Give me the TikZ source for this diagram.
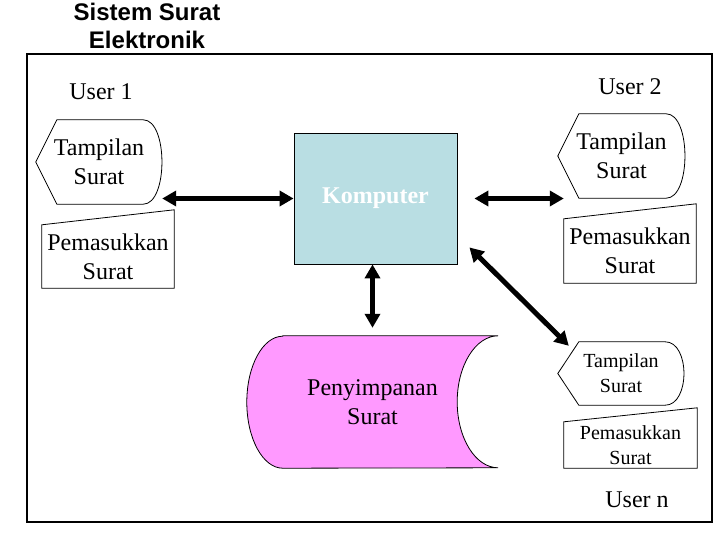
\documentclass[tikz,border=0pt]{standalone}
\usepackage{fontspec}
\setmainfont{Liberation Serif}
\newfontfamily\titlefont{Liberation Sans}
\usetikzlibrary{arrows.meta,calc,backgrounds}

\begin{document}
\begin{tikzpicture}[x=1pt,y=-1pt,
        txt/.style={font=\fontsize{24}{29}\selectfont, align=center, inner sep=0pt},
        smalltxt/.style={font=\fontsize{20}{25}\selectfont, align=center, inner sep=0pt},
        outline/.style={draw, line width=0.8pt},
        bigarrow/.style={{Triangle[length=14pt,width=15pt]}-{Triangle[length=14pt,width=15pt]}, line width=5pt}]
        \definecolor{kompblue}{RGB}{185,222,227}
        \definecolor{simpanpink}{RGB}{255,153,255}

        \useasboundingbox (0,0) rectangle (720,540);
        \node[font=\titlefont\bfseries\fontsize{24}{28}\selectfont, align=center, inner sep=0pt] (title) at (147,26) {Sistem Surat\\Elektronik};
        \draw[line width=1.2pt] (27,54) rectangle (712,522);

        % user labels
        \node[txt] (user1) at (101,92) {User 1};
        \node[txt] (user2) at (630,87) {User 2};
        \node[txt] (usern) at (637,500) {User n};

        % tampilan and pemasukkan
        \node[txt, minimum width=126pt, minimum height=84pt] (t1) at (99,162) {Tampilan\\Surat};
        \node[txt, minimum width=132pt, minimum height=63pt] (p1) at (108,256.5) {Pemasukkan\\Surat};
        \node[txt, minimum width=127pt, minimum height=84pt] (t2) at (621.5,156) {Tampilan\\Surat};
        \node[txt, minimum width=132pt, minimum height=64pt] (p2) at (630,251) {Pemasukkan\\Surat};
        \node[smalltxt, minimum width=126pt, minimum height=63pt] (tn) at (621,373.5) {Tampilan\\Surat};
        \node[smalltxt, minimum width=133pt, minimum height=46pt] (pn) at (630.5,445) {Pemasukkan\\Surat};

        \foreach \n in {t1,t2,tn}
            \draw[outline] (\n.west) -- ([xshift=21pt]\n.north west) -- ([xshift=-19pt]\n.north east)
                .. controls ([xshift=6pt]\n.north east) and ([xshift=6pt]\n.south east) .. ([xshift=-19pt]\n.south east)
                -- ([xshift=21pt]\n.south west) -- cycle;
        \foreach \n/\r in {p1/15,p2/15,pn/14}
            \draw[outline] (\n.south west) -- (\n.north west) -- ([yshift=\r pt]\n.north east) -- (\n.south east) -- cycle;

        \node[outline, fill=kompblue, minimum width=163pt, minimum height=131pt, inner sep=0pt,
            text=white, font=\fontsize{24}{29}\selectfont\bfseries] (komp) at (375.5,198.5) {Komputer};

        % penyimpanan
        \node[txt, minimum width=251pt, minimum height=132pt] (st) at (372.5,402) {Penyimpanan\\Surat};
        \begin{scope}[on background layer]
            \draw[outline, fill=simpanpink] ([xshift=36pt]st.north west) -- (st.north east)
                arc[start angle=90, end angle=270, x radius=41pt, y radius=66pt]
                -- ([xshift=36pt]st.south west)
                arc[start angle=270, end angle=90, x radius=36pt, y radius=66pt] -- cycle;
        \end{scope}

        \draw[bigarrow] (t1.east |- komp.west) -- (komp.west);
        \draw[bigarrow, shorten <=17pt] (komp.east) -- ($(t2.west |- komp.east)+(6,0)$);
        \draw[bigarrow, shorten >=8pt] (st.north |- komp.south) -- (st.north);
        \draw[bigarrow] ($(komp.south east)+(12,-17)$) -- ($(tn.north west)+(11,4)$);
    \end{tikzpicture}
\end{document}
